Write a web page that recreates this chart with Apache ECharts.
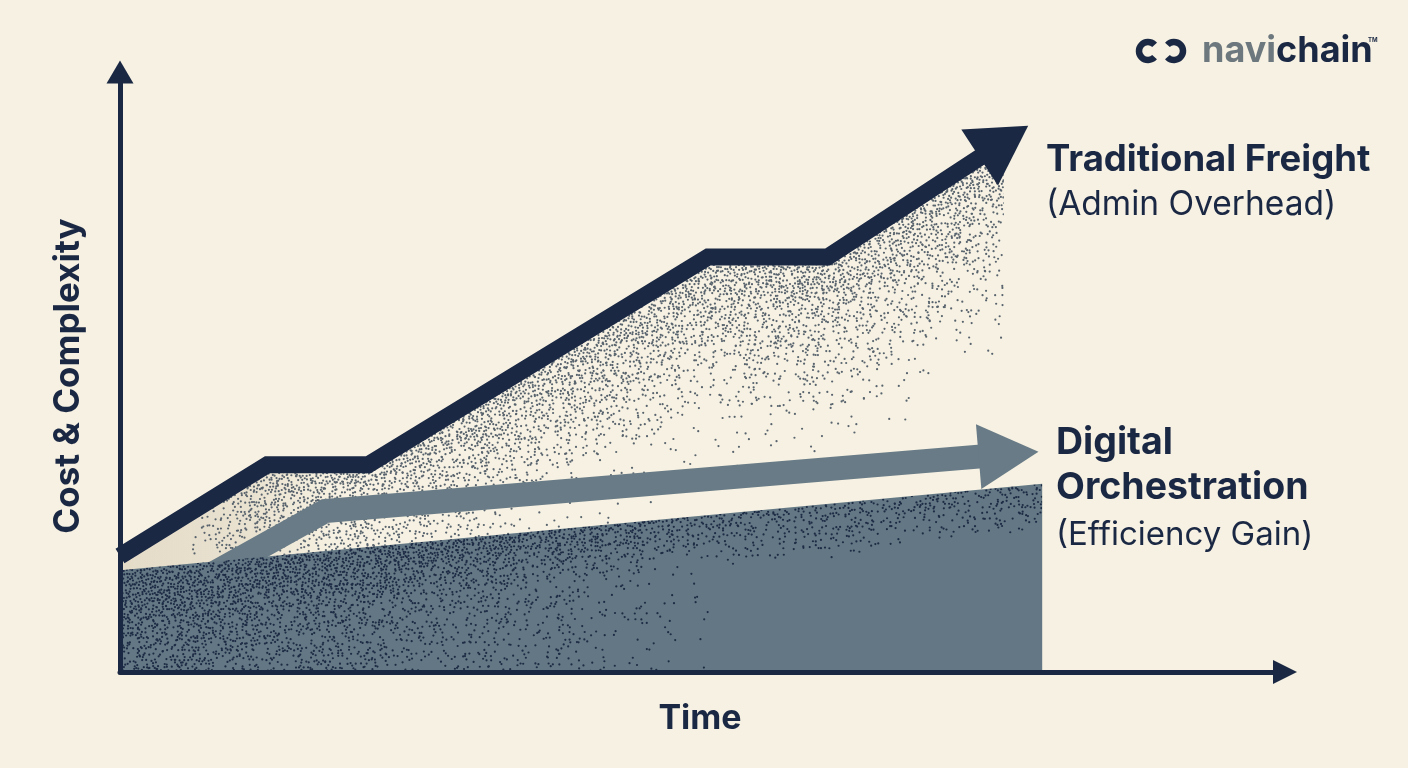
<!DOCTYPE html>
<html>
<head>
<meta charset="utf-8">
<title>Traditional Freight vs Digital Orchestration</title>
<script src="https://cdn.jsdelivr.net/npm/echarts@6/dist/echarts.min.js"></script>
<style>
  html, body { margin: 0; padding: 0; background: #f6f1e2; }
  #main { width: 1408px; height: 768px; }
</style>
</head>
<body>
<div id="main"></div>
<script>
// readings, both axes on a 0-100 scale
var tradTime = [0, 12.7, 21.4, 50.7, 61.0, 76.2];
var tradCost = [19.6, 35.0, 35.0, 70.1, 70.1, 89.6];
var digiTime = [7.8, 17.7, 76.6];
var digiCost = [16.4, 27.2, 36.8];
var baseTime = [0, 79.5];
var baseCost = [17.2, 31.8];

var NAVY = '#1b2844', SLATE = '#687b86', BASE = '#637884', BG = '#f6f1e2', TAN = '#e4dbc8';
var FONT = 'Inter, "Noto Sans", sans-serif';

var chart = echarts.init(document.getElementById('main'), null, { renderer: 'canvas' });

function pairs(xs, ys) {
  return xs.map(function (x, i) { return [x, ys[i]]; });
}

// last point gets the arrow head
function withArrow(xs, ys, size, rot, color) {
  var pts = pairs(xs, ys);
  return pts.map(function (p, i) {
    if (i < pts.length - 1) return p;
    return { value: p, symbol: 'triangle', symbolSize: size, symbolRotate: rot, itemStyle: { color: color } };
  });
}

function buildOption(tradFill, baseFill, tradRot, digiRot) {
  return {
    backgroundColor: BG,
    animation: false,
    grid: { left: 120, right: 128, top: 80, bottom: 96 },
    xAxis: {
      type: 'value', min: 0, max: 100, z: 10,
      axisLine: { show: true, lineStyle: { color: NAVY, width: 5 }, symbol: ['none', 'triangle'], symbolSize: [24, 24], symbolOffset: [0, 5] },
      axisTick: { show: false }, axisLabel: { show: false }, splitLine: { show: false },
      name: 'Time', nameLocation: 'middle', nameGap: 30,
      nameTextStyle: { color: NAVY, fontFamily: FONT, fontWeight: 'bold', fontSize: 34 }
    },
    yAxis: {
      type: 'value', min: 0, max: 100, z: 10,
      axisLine: { show: true, lineStyle: { color: NAVY, width: 5 }, symbol: ['none', 'triangle'], symbolSize: [27, 23], symbolOffset: [0, 8] },
      axisTick: { show: false }, axisLabel: { show: false }, splitLine: { show: false },
      name: 'Cost & Complexity', nameLocation: 'middle', nameGap: 34,
      nameTextStyle: { color: NAVY, fontFamily: FONT, fontWeight: 'bold', fontSize: 35 }
    },
    series: [
      {
        name: 'Traditional Freight',
        type: 'line', z: 2,
        data: withArrow(tradTime, tradCost, [67, 58], tradRot, NAVY),
        symbol: 'none',
        lineStyle: { color: NAVY, width: 17, cap: 'butt', join: 'miter' },
        areaStyle: { color: tradFill, opacity: 1 },
        silent: true, emphasis: { disabled: true }
      },
      {
        name: 'Digital Orchestration',
        type: 'line', z: 3,
        data: withArrow(digiTime, digiCost, [65, 60], digiRot, SLATE),
        symbol: 'none',
        lineStyle: { color: SLATE, width: 24, cap: 'butt', join: 'miter' },
        silent: true, emphasis: { disabled: true }
      },
      {
        name: 'Baseline',
        type: 'line', z: 4,
        data: pairs(baseTime, baseCost),
        symbol: 'none',
        lineStyle: { width: 0 },
        areaStyle: { color: baseFill, opacity: 1 },
        silent: true, emphasis: { disabled: true }
      }
    ],
    graphic: [
      { type: 'text', x: 1046, y: 160, style: { text: 'Traditional Freight', font: 'bold 36.5px ' + FONT, fill: NAVY, verticalAlign: 'middle', textVerticalAlign: 'middle' } },
      { type: 'text', x: 1046, y: 205, style: { text: '(Admin Overhead)', font: '33.5px ' + FONT, fill: NAVY, verticalAlign: 'middle', textVerticalAlign: 'middle' } },
      { type: 'text', x: 1056, y: 443, style: { text: 'Digital', font: 'bold 37.5px ' + FONT, fill: NAVY, verticalAlign: 'middle', textVerticalAlign: 'middle' } },
      { type: 'text', x: 1056, y: 488, style: { text: 'Orchestration', font: 'bold 37.5px ' + FONT, fill: NAVY, verticalAlign: 'middle', textVerticalAlign: 'middle' } },
      { type: 'text', x: 1056, y: 535, style: { text: '(Efficiency Gain)', font: '33px ' + FONT, fill: NAVY, verticalAlign: 'middle', textVerticalAlign: 'middle' } },
      // logo
      { type: 'arc', shape: { cx: 1148, cy: 51, r: 9, startAngle: 0.75, endAngle: Math.PI * 2 - 0.75, clockwise: true }, style: { stroke: NAVY, lineWidth: 6.5, fill: null } },
      { type: 'arc', shape: { cx: 1174, cy: 51, r: 9, startAngle: -Math.PI + 0.75, endAngle: Math.PI - 0.75, clockwise: true }, style: { stroke: NAVY, lineWidth: 6.5, fill: null } },
      {
        type: 'text', x: 1202, y: 51,
        style: {
          text: '{a|navi}{b|chain}', verticalAlign: 'middle', textVerticalAlign: 'middle',
          rich: {
            a: { fill: '#6c787e', font: 'bold 36px ' + FONT },
            b: { fill: NAVY, font: 'bold 36px ' + FONT }
          }
        }
      },
      { type: 'text', x: 1368, y: 37, style: { text: 'TM', font: 'bold 6px ' + FONT, fill: NAVY } }
    ]
  };
}

chart.setOption(buildOption('rgba(0,0,0,0)', BASE, 0, 0));

// pixel positions of the series, through the chart's own scales
function toPx(xs, ys) {
  return xs.map(function (x, i) { return chart.convertToPixel({ gridIndex: 0 }, [x, ys[i]]); });
}
function yAt(pts, x) {
  for (var i = 0; i < pts.length - 1; i++) {
    if (x <= pts[i + 1][0] || i === pts.length - 2) {
      var a = pts[i], b = pts[i + 1];
      return a[1] + (b[1] - a[1]) * (x - a[0]) / (b[0] - a[0]);
    }
  }
  return pts[0][1];
}
function hash(i, j, k) {
  var n = Math.sin(i * 127.1 + j * 311.7 + k * 74.7) * 43758.5453;
  return n - Math.floor(n);
}
function headAngle(pts) {
  var a = pts[pts.length - 2], b = pts[pts.length - 1];
  var deg = Math.atan2(a[1] - b[1], b[0] - a[0]) * 180 / Math.PI;
  return deg - 90;
}

var tradPx = toPx(tradTime, tradCost);
var digiPx = toPx(digiTime, digiCost);
var basePx = toPx(baseTime, baseCost);
var W = 1408, H = 768;

// stipple under the traditional line
var tc = document.createElement('canvas');
tc.width = W; tc.height = H;
var tx = tc.getContext('2d');
var tg = tx.createLinearGradient(120, 0, 335, 0);
tg.addColorStop(0, TAN);
tg.addColorStop(0.6, 'rgba(228,219,200,0.7)');
tg.addColorStop(1, 'rgba(228,219,200,0)');
tx.fillStyle = tg;
tx.fillRect(0, 0, W, H);
tx.fillStyle = '#58636d';
var step = 3.1;
for (var j = 0; j * step < H; j++) {
  for (var i = 0; i * step < W; i++) {
    var x = i * step + (hash(i, j, 1) - 0.5) * step;
    var y = j * step + (hash(i, j, 2) - 0.5) * step;
    var d = y - yAt(tradPx, x) - 7;
    if (d < 0) continue;
    var fade = Math.max(0, 1 - d / 230);
    var left = Math.min(1, Math.max(0, (x - 185) / 80));
    var p = 0.9 * Math.pow(fade, 2.2) * left;
    if (hash(i, j, 3) < p) {
      tx.beginPath(); tx.arc(x, y, 1.1, 0, Math.PI * 2); tx.fill();
    }
  }
}

// slate base with navy grain, heavy on the left and along the top edge
var bc = document.createElement('canvas');
bc.width = W; bc.height = H;
var bx = bc.getContext('2d');
bx.fillStyle = BASE;
bx.fillRect(0, 0, W, H);
bx.fillStyle = '#1e2b45';
step = 3.1;
for (var j2 = 0; j2 * step < H; j2++) {
  for (var i2 = 0; i2 * step < W; i2++) {
    var x2 = i2 * step + (hash(i2, j2, 4) - 0.5) * step;
    var y2 = j2 * step + (hash(i2, j2, 5) - 0.5) * step;
    var d2 = y2 - yAt(basePx, x2);
    if (d2 < 0) continue;
    var fx = Math.max(0, 1 - (x2 - 120) / 600);
    var fy = Math.max(0, 1 - d2 / 130);
    var ft = Math.max(0, 1 - d2 / 55);
    var p2 = Math.min(0.9, 0.95 * fx * (0.5 + 0.5 * fy) + 0.55 * ft);
    if (hash(i2, j2, 6) < p2) {
      bx.beginPath(); bx.arc(x2, y2, 1.1, 0, Math.PI * 2); bx.fill();
    }
  }
}

chart.setOption(buildOption(
  { image: tc, repeat: 'no-repeat' },
  { image: bc, repeat: 'no-repeat' },
  headAngle(tradPx),
  headAngle(digiPx)
));
</script>
</body>
</html>
